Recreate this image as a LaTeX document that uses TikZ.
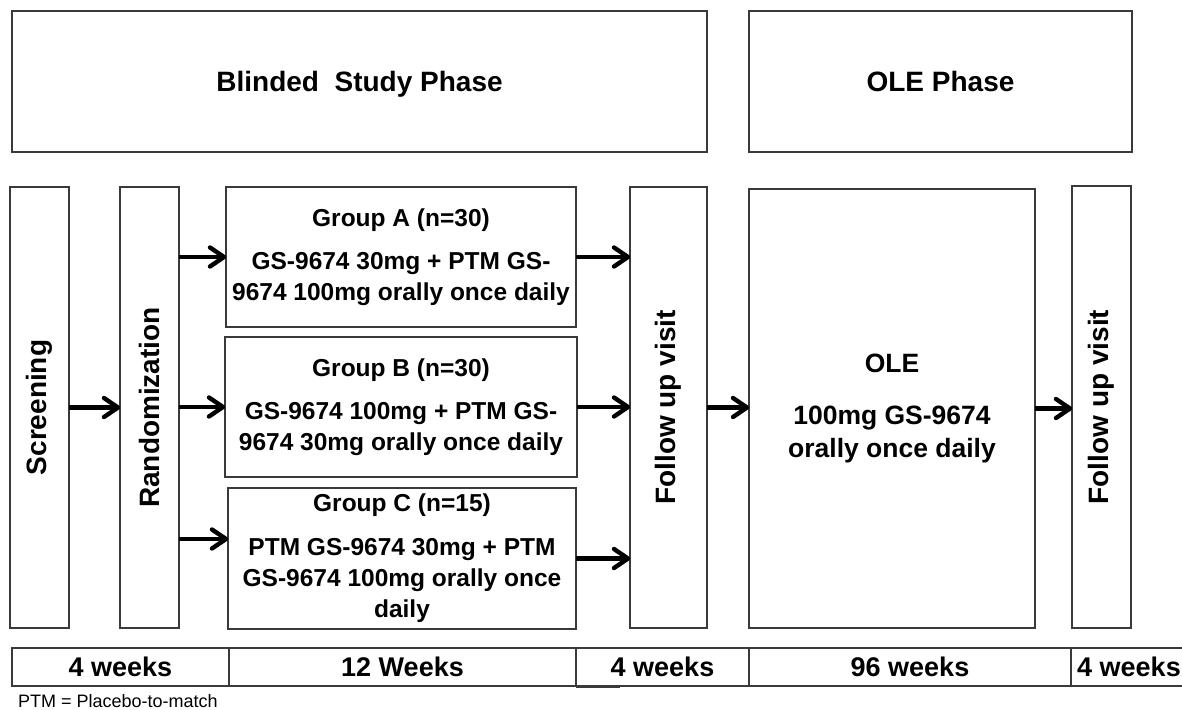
\documentclass[tikz,border=0pt]{standalone}
\usepackage{fontspec}
\setmainfont{Liberation Sans}
\usetikzlibrary{arrows.meta,calc}
\definecolor{edge}{HTML}{3A3A3A}
\pgfdeclarearrow{
  name = Chev,
  parameters = {\the\pgfarrowlength,\the\pgfarrowwidth},
  setup code = {
    \pgfarrowssettipend{2pt}
    \pgfarrowssetlineend{-1.5pt}
    \pgfarrowssetbackend{-\pgfarrowlength}
    \pgfarrowssavethe\pgfarrowlength
    \pgfarrowssavethe\pgfarrowwidth
  },
  drawing code = {
    \pgfsetdash{}{0pt}
    \pgfsetlinewidth{4.4pt}
    \pgfsetroundcap \pgfsetroundjoin
    \pgfpathmoveto{\pgfpoint{-\pgfarrowlength}{.5\pgfarrowwidth}}
    \pgfpathlineto{\pgfpoint{0pt}{0pt}}
    \pgfpathlineto{\pgfpoint{-\pgfarrowlength}{-.5\pgfarrowwidth}}
    \pgfusepathqstroke
  },
  defaults = {length=13pt, width=18pt}
}
\tikzset{
  box/.style={draw=edge, line width=1.2pt, inner sep=0pt, outer sep=0pt, rectangle, align=center,
    font=\bfseries\fontsize{24.5}{31}\selectfont},
  hdr/.style={font=\bfseries\fontsize{28}{32}\selectfont, text height=20pt, text depth=0pt},
  oletxt/.style={font=\bfseries\fontsize{26.5}{33}\selectfont},
  vlabel/.style={rotate=90, inner sep=0pt, font=\bfseries\fontsize{28}{32}\selectfont},
  cell/.style={draw=edge, line width=1.2pt, inner sep=0pt, outer sep=0pt, minimum height=38pt,
    font=\bfseries\fontsize{27}{30}\selectfont},
  arr/.style={line width=4.2pt, -{Chev[length=14pt,width=19pt]}},
}
\begin{document}
\begin{tikzpicture}[x=1pt,y=-1pt]
\useasboundingbox (0,0) rectangle (1182,709);
\clip (0,0) rectangle (1182,709);
% phase headers
\node[box, hdr, minimum width=695pt, minimum height=141pt] (blinded) at (359.5,81.5) {Blinded\ \ Study Phase};
\node[box, hdr, minimum width=383pt, minimum height=141pt] (olephase) at (940.5,81.5) {OLE Phase};
% tall boxes
\node[box, minimum width=59pt, minimum height=441pt] (screen) at (39.5,407.5) {};
\node[vlabel] (screenlbl) at (screen.center) {Screening};
\node[box, minimum width=59pt, minimum height=441pt] (rand) at (149.5,407.5) {};
\node[vlabel] (randlbl) at (rand.center) {Randomization};
\node[box, minimum width=77pt, minimum height=441pt] (fu1) at (668.5,407.5) {};
\node[vlabel] (fu1lbl) at (fu1.center) {Follow up visit};
\node[box, minimum width=59pt, minimum height=442pt] (fu2) at (1101.5,407) {};
\node[vlabel] (fu2lbl) at (fu2.center) {Follow up visit};
% groups
\node[box, minimum width=350pt, minimum height=140pt] (grpA) at (401,257)
  {Group A (n=30)\\[12pt]GS-9674 30mg + PTM GS-\\9674 100mg orally once daily};
\node[box, minimum width=352pt, minimum height=140pt] (grpB) at (401,407)
  {Group B (n=30)\\[12pt]GS-9674 100mg + PTM GS-\\9674 30mg orally once daily};
\node[box, minimum width=348pt, minimum height=141pt] (grpC) at (402,558.5)
  {Group C (n=15)\\[13pt]PTM GS-9674 30mg + PTM\\GS-9674 100mg orally once\\daily};
% OLE
\node[box, oletxt, minimum width=286pt, minimum height=439pt] (ole) at (892,408.5)
  {OLE\\[19pt]100mg GS-9674\\orally once daily};
% arrows
\coordinate (cC) at ([yshift=19.5pt]grpC.west);
\draw[arr] (screen.east) -- (rand.west);
\draw[arr] (rand.east |- grpA.west) -- (grpA.west);
\draw[arr] (rand.east |- grpB.west) -- (grpB.west);
\draw[arr] (rand.east |- cC) -- (cC);
\draw[arr] (grpA.east) -- (grpA.east -| fu1.west);
\draw[arr] (grpB.east) -- (grpB.east -| fu1.west);
\draw[arr] (grpC.east) -- (grpC.east -| fu1.west);
\draw[arr] (fu1.east) -- (fu1.east -| ole.west);
\draw[arr] (ole.east) -- (ole.east -| fu2.west);
% timeline bar
\node[cell, minimum width=217pt] (c1) at (120.5,667) {4 weeks};
\node[cell, minimum width=347pt] (c2) at (402.5,667) {12 Weeks};
\node[cell, minimum width=173pt] (c3) at (662.5,667) {4 weeks};
\node[cell, minimum width=322pt] (c4) at (910,667) {96 weeks};
\node[cell, minimum width=116pt] (c5) at (1129,667) {4 weeks};
\draw[edge, line width=1.6pt] (c3.south west) ++(0,1.2) -- ++(44,0);
% footnote
\node[anchor=base west, inner sep=0pt, font=\fontsize{18}{20}\selectfont] (note) at (18,707) {PTM = Placebo-to-match};
\end{tikzpicture}
\end{document}
